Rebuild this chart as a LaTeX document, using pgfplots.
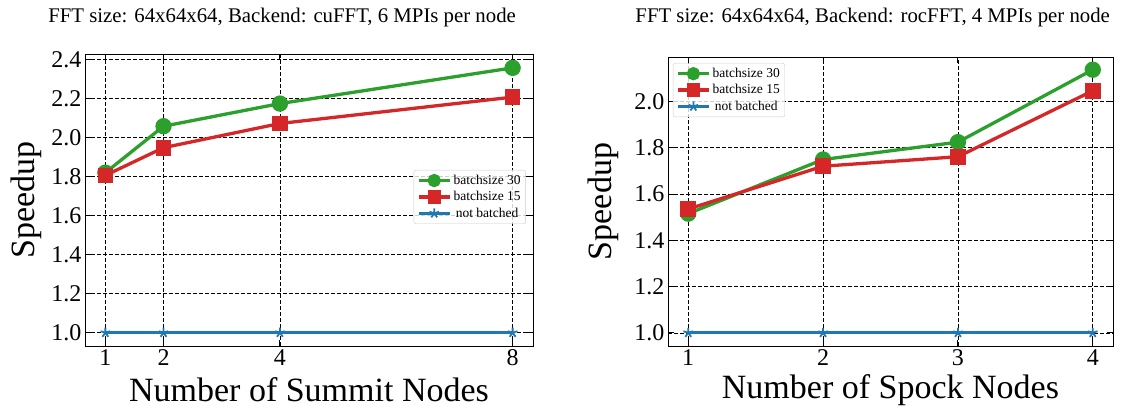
\documentclass[border=0pt]{standalone}
\usepackage{fontspec}
\setmainfont{Liberation Serif}
\usepackage{pgfplots}
\pgfplotsset{compat=1.18}
\definecolor{tgreen}{HTML}{2CA02C}
\definecolor{tred}{HTML}{D62728}
\definecolor{tblue}{HTML}{1F77B4}
\pgfplotsset{
  common/.style={
    scale only axis,
    axis line style={black, line width=0.9pt},
    tick align=inside,
    major tick length=6pt,
    tick style={black, line width=0.9pt},
    grid=major,
    major grid style={black, dashed, line width=0.6pt, dash pattern=on 4pt off 2pt},
    ticklabel style={font=\fontsize{24}{26}\selectfont},
    /pgf/number format/assume math mode=true,
    yticklabel style={/pgf/number format/.cd, fixed, fixed zerofill, precision=1},
    label style={font=\fontsize{34}{36}\selectfont},
    title style={font=\fontsize{20.8}{23}\selectfont},
    legend style={font=\fontsize{13.5}{15}\selectfont, draw=black!20, rounded corners=2pt,
      fill=white, fill opacity=0.8, text opacity=1, inner sep=3pt, row sep=1.5pt},
    legend image code/.code={
      \draw[fill opacity=1, draw opacity=1, mark repeat=2,mark phase=2, mark size=5pt] plot coordinates {(0cm,0cm) (0.55cm,0cm) (1.1cm,0cm)};
    },
  },
  gr/.style={tgreen, line width=3.3pt, mark=*, mark size=6.5pt, mark options={solid}},
  rd/.style={tred, line width=3.3pt, mark=square*, mark size=6.2pt, mark options={solid}},
  bl/.style={tblue, line width=3.3pt, mark=star, mark size=5pt, mark options={solid, line width=1.8pt}},
}
\begin{document}
\begin{tikzpicture}
\useasboundingbox (0,0) rectangle (1146pt,411pt);
\begin{axis}[common,
  at={(85pt,65pt)}, anchor=south west,
  width=448pt, height=292pt,
  xmin=0.65, xmax=8.35, ymin=0.932, ymax=2.428,
  xtick={1,2,4,8}, ytick={1.0,1.2,1.4,1.6,1.8,2.0,2.2,2.4},
  xlabel={Number of Summit Nodes}, ylabel={Speedup},
  xlabel style={at={(axis description cs:0.5,-0.15)}, anchor=center},
  ylabel style={at={(axis description cs:-0.13,0.5)}, anchor=center},
  title={FFT size: 64x64x64, Backend: cuFFT, 6 MPIs per node},
  title style={at={(axis description cs:0.44,1.105)}, anchor=center},
  legend style={at={(axis description cs:0.984,0.603)}, anchor=north east},
]
\addplot[gr] coordinates {(1,1.820) (2,2.058) (4,2.174) (8,2.357)};
\addlegendentry{batchsize 30}
\addplot[rd] coordinates {(1,1.806) (2,1.948) (4,2.072) (8,2.207)};
\addlegendentry{batchsize 15}
\addplot[bl] coordinates {(1,1.0) (2,1.0) (4,1.0) (8,1.0)};
\addlegendentry{not batched}
\end{axis}
\begin{axis}[common,
  at={(668pt,65pt)}, anchor=south west,
  width=445pt, height=289pt,
  xmin=0.85, xmax=4.15, ymin=0.943, ymax=2.192,
  xtick={1,2,3,4}, ytick={1.0,1.2,1.4,1.6,1.8,2.0},
  xlabel={Number of Spock Nodes}, ylabel={Speedup},
  xlabel style={at={(axis description cs:0.5,-0.152)}, anchor=center},
  ylabel style={at={(axis description cs:-0.145,0.5)}, anchor=center},
  title={FFT size: 64x64x64, Backend: rocFFT, 4 MPIs per node},
  title style={at={(axis description cs:0.46,1.115)}, anchor=center},
  legend style={at={(axis description cs:0.011,0.979)}, anchor=north west},
]
\addplot[gr] coordinates {(1,1.515) (2,1.749) (3,1.824) (4,2.137)};
\addlegendentry{batchsize 30}
\addplot[rd] coordinates {(1,1.535) (2,1.720) (3,1.761) (4,2.046)};
\addlegendentry{batchsize 15}
\addplot[bl] coordinates {(1,1.0) (2,1.0) (3,1.0) (4,1.0)};
\addlegendentry{not batched}
\end{axis}
\end{tikzpicture}
\end{document}
